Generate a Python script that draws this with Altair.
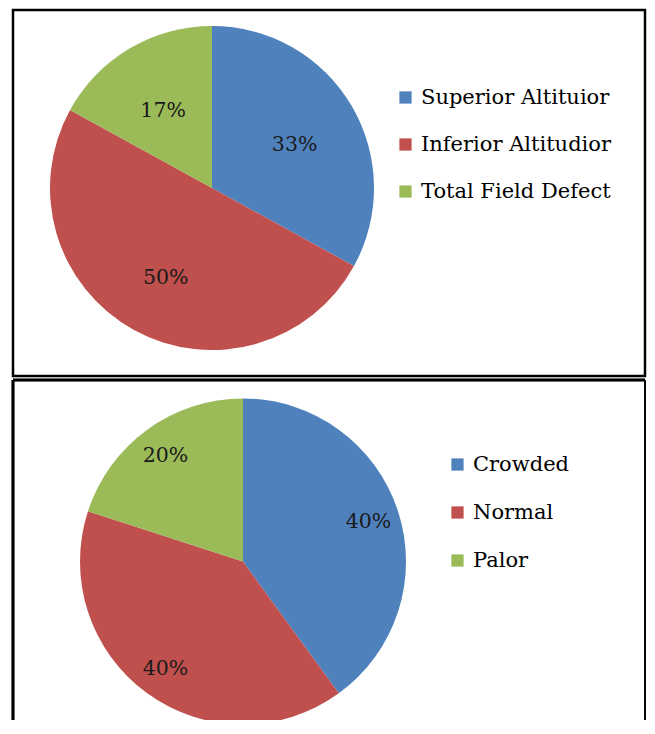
import altair as alt
import pandas as pd

# ---- data ----
top_categories = ["Superior Altituior", "Inferior Altitudior", "Total Field Defect"]
top_values = [33, 50, 17]
bottom_categories = ["Crowded", "Normal", "Palor"]
bottom_values = [40, 40, 20]
slice_colors = ["#4F81BD", "#C0504D", "#9BBB59"]

FONT = "DejaVu Serif"


def panel(cats, vals, w, h, cx, cy, r, label_r, label_dy, lx, ly, row_pad, framed):
    df = pd.DataFrame({
        "cat": cats,
        "val": vals,
        "ord": list(range(len(cats))),
        "label": [f"{v}%" for v in vals],
    })
    base = alt.Chart(df).encode(
        theta=alt.Theta("val:Q", stack=True),
        order=alt.Order("ord:Q"),
        detail="cat:N",
    )
    arc = base.mark_arc(radius=r, x=cx, y=cy, clip=True).encode(
        color=alt.Color(
            "cat:N",
            sort=cats,
            scale=alt.Scale(domain=cats, range=slice_colors),
            legend=alt.Legend(
                title=None,
                orient="none",
                legendX=lx,
                legendY=ly,
                symbolType="square",
                symbolSize=150,
                symbolStrokeWidth=0,
                labelFont=FONT,
                labelFontSize=21,
                labelLimit=400,
                labelColor="#000000",
                labelOffset=5,
                rowPadding=row_pad,
                padding=0,
            ),
        )
    )
    text = base.mark_text(
        radius=label_r, x=cx, y=cy, dy=label_dy, font=FONT, fontSize=20.5,
        color="#1a1a1a"
    ).encode(text="label:N")
    layers = [arc, text]
    if framed:
        props = dict(view=alt.ViewBackground(stroke="#000000", strokeWidth=2.5))
    else:
        props = dict(view=alt.ViewBackground(stroke="transparent"))
        left = alt.Chart(df).mark_rule(color="#000000", strokeWidth=2.5).encode(
            x=alt.value(0), y=alt.value(0), y2=alt.value(h))
        topr = alt.Chart(df).mark_rule(color="#000000", strokeWidth=2.5).encode(
            x=alt.value(0), x2=alt.value(w), y=alt.value(0))
        right = alt.Chart(df).mark_rule(color="#000000", strokeWidth=1.5).encode(
            x=alt.value(w), y=alt.value(0), y2=alt.value(h))
        layers += [left, topr, right]
    return alt.layer(*layers).properties(width=w, height=h, **props)


top = panel(top_categories, top_values, 632, 366, 199, 178, 162, 96, 6, 382, 77, 25, True)
bottom = panel(bottom_categories, bottom_values, 632, 340, 230, 181.5, 163, 132, 1, 434, 74, 26, False)

chart = (
    alt.vconcat(top, bottom, spacing=0)
    .resolve_scale(color="independent")
    .resolve_legend(color="independent")
    .properties(padding={"left": 3, "top": 0, "right": 0, "bottom": 0})
    .configure(background="white")
)

chart.save("out.html", embed_options={"renderer": "svg", "actions": False})
